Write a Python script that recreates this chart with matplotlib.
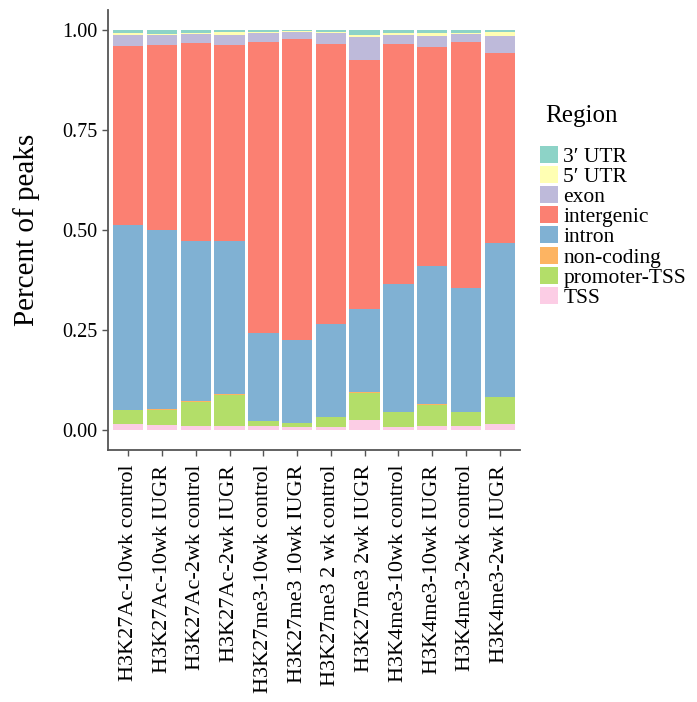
import numpy as np
import matplotlib
matplotlib.use("Agg")
import matplotlib.pyplot as plt
from matplotlib.patches import Patch
import matplotlib.transforms as mtransforms

samples = ["H3K27Ac-10wk control", "H3K27Ac-10wk IUGR", "H3K27Ac-2wk control",
           "H3K27Ac-2wk IUGR", "H3K27me3-10wk control", "H3K27me3 10wk IUGR",
           "H3K27me3 2 wk control", "H3K27me3 2wk IUGR", "H3K4me3-10wk control",
           "H3K4me3-10wk IUGR", "H3K4me3-2wk control", "H3K4me3-2wk IUGR"]

# fractions per region (bottom to top of the stack)
tss        = [0.0145, 0.012, 0.0105, 0.0105, 0.0088, 0.007, 0.008, 0.0255, 0.007, 0.011, 0.010, 0.0145]
promoter   = [0.0343, 0.0385, 0.060, 0.0775, 0.0132, 0.0093, 0.0233, 0.0675, 0.038, 0.051, 0.034, 0.067]
noncoding  = [0.002, 0.002, 0.002, 0.002, 0.001, 0.001, 0.001, 0.002, 0.001, 0.002, 0.002, 0.002]
intron     = [0.4628, 0.4475, 0.399, 0.382, 0.220, 0.2067, 0.2325, 0.2066, 0.318, 0.345, 0.310, 0.383]
intergenic = [0.4474, 0.4625, 0.495, 0.491, 0.7275, 0.753, 0.700, 0.624, 0.600, 0.549, 0.615, 0.4765]
exon       = [0.027, 0.025, 0.022, 0.025, 0.0217, 0.019, 0.0267, 0.0564, 0.023, 0.028, 0.020, 0.0415]
utr5       = [0.0037, 0.0035, 0.0035, 0.0065, 0.0033, 0.001, 0.0033, 0.0055, 0.005, 0.0067, 0.0022, 0.011]
utr3       = [0.0083, 0.009, 0.0075, 0.006, 0.0042, 0.003, 0.005, 0.0125, 0.007, 0.0075, 0.007, 0.005]

regions = ["3\u2032 UTR", "5\u2032 UTR", "exon", "intergenic", "intron",
           "non-coding", "promoter-TSS", "TSS"]
colors = ["#8DD3C7", "#FFFFB3", "#BEBADA", "#FB8072", "#80B1D3",
          "#FDB462", "#B3DE69", "#FCCDE5"]
series = [utr3, utr5, exon, intergenic, intron, noncoding, promoter, tss]

plt.rcParams['font.family'] = ['Liberation Serif', 'DejaVu Serif']

fig = plt.figure(figsize=(6.97, 7.02), dpi=100)
ax = fig.add_axes([0.155, 0.359, 0.591, 0.6268])

data = np.array(series, dtype=float)
data = data / data.sum(axis=0)  # position = fill
x = np.arange(1, len(samples) + 1)

bottom = np.zeros(len(samples))
# stack from bottom: last region first
for i in range(len(regions) - 1, -1, -1):
    ax.bar(x, data[i], width=0.9, bottom=bottom, color=colors[i], linewidth=0)
    bottom += data[i]

ax.set_xlim(0.4, 12.6)
ax.set_ylim(-0.05, 1.05)
ax.set_yticks([0, 0.25, 0.5, 0.75, 1.0])
ax.set_yticklabels(["0.00", "0.25", "0.50", "0.75", "1.00"], fontsize=14.5)
ax.set_xticks(x)
ax.set_xticklabels(samples, rotation=90, fontsize=16, va='top', ha='center')
offset = mtransforms.ScaledTranslation(0, -6 / 100, fig.dpi_scale_trans)
for lab in ax.get_yticklabels():
    lab.set_transform(lab.get_transform() + offset)

for s in ["top", "right"]:
    ax.spines[s].set_visible(False)
for s in ["left", "bottom"]:
    ax.spines[s].set_color("#555555")
    ax.spines[s].set_linewidth(1.3)
ax.tick_params(axis='both', colors="#555555", length=4.5, width=1.0, labelcolor="black")
ax.tick_params(axis='y', pad=3)
ax.tick_params(axis='x', pad=6)

ax.set_ylabel("Percent of peaks", fontsize=21, labelpad=16)

fig.text(545 / 697, 1 - 116 / 702, "Region", fontsize=18, ha='left', va='center')
handles = [Patch(facecolor=c, edgecolor='none') for c in colors]
leg = fig.legend(handles, regions, loc='upper left', bbox_to_anchor=(540 / 697, 1 - 146 / 702),
                 frameon=False, fontsize=15.5, borderpad=0,
                 handlelength=0.84, handleheight=0.84, labelspacing=-0.04,
                 handletextpad=0.25, borderaxespad=0)

fig.savefig("out.png", dpi=100)
